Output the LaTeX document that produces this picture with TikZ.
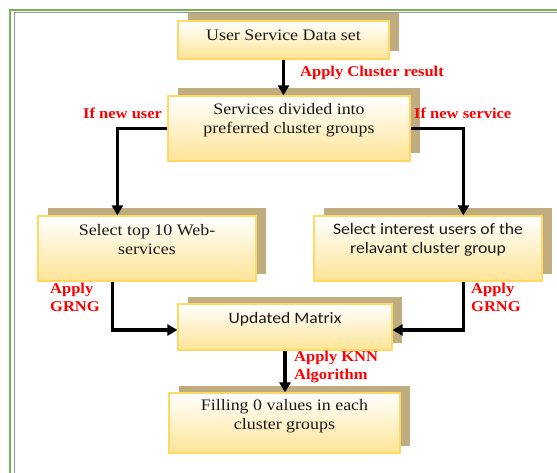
\documentclass[tikz,border=0pt]{standalone}
\usepackage{fontspec}
\setmainfont{Liberation Serif}
\newfontfamily\boxserif{Liberation Serif}[FakeStretch=1.12]
\newfontfamily\boxsans{Carlito}[FakeStretch=1.1]
\newfontfamily\labfont{Liberation Serif}[FakeStretch=1.1]
\usetikzlibrary{arrows.meta,shadows}
\definecolor{boxbot}{RGB}{255,228,150}
\definecolor{boxedge}{RGB}{255,217,102}
\definecolor{shadowc}{RGB}{191,173,127}
\definecolor{greenb}{RGB}{118,178,78}
\definecolor{grayb}{RGB}{150,150,150}
\definecolor{redl}{RGB}{255,0,0}
\begin{document}
\begin{tikzpicture}[x=1pt,y=-1pt,
  flowbox/.style={draw=boxedge, line width=1.2pt, top color=white, bottom color=boxbot, inner sep=0pt,
    general shadow={shadow xshift=9.5pt, shadow yshift=7.5pt, fill=shadowc}},
  serift/.style={font=\boxserif\fontsize{16}{19}\selectfont, align=center, inner sep=0pt, text=black!90},
  sanst/.style={font=\boxsans\fontsize{16}{18.5}\selectfont, align=center, inner sep=0pt, text=black!90},
  redlab/.style={font=\labfont\bfseries\fontsize{15}{18}\selectfont, text=redl, align=left, inner sep=0pt, anchor=west},
  conn/.style={line width=3.5pt, -{Triangle[length=10pt,width=11pt]}},
]
\useasboundingbox (0,0) rectangle (557,473);
\fill[white] (0,0) rectangle (557,473);
% page borders
\draw[greenb, line width=2pt] (10,480) -- (10,10) -- (565,10);
\draw[grayb, line width=1.4pt] (14.5,480) -- (14.5,12.5) -- (565,12.5);

% boxes
\node[flowbox, minimum width=211pt, minimum height=38pt] (b1) at (283.5,40) {};
\node[flowbox, minimum width=242pt, minimum height=65pt] (b2) at (289,128.5) {};
\node[flowbox, minimum width=218pt, minimum height=65pt] (b3) at (147,248.5) {};
\node[flowbox, minimum width=228pt, minimum height=65pt] (b4) at (428,248.5) {};
\node[flowbox, minimum width=214pt, minimum height=46pt] (b5) at (285,327) {};
\node[flowbox, minimum width=231pt, minimum height=60pt] (b6) at (284.5,423) {};

% box texts
\node[serift] (t1) at (283.5,35) {User Service Data set};
\node[serift] (t2) at (289,120.5) {Services divided into\\preferred cluster groups};
\node[serift] (t3) at (147,240) {Select top 10 Web-\\services};
\node[sanst] (t4) at (428,240) {Select interest users of the\\relavant cluster group};
\node[sanst] (t5) at (285,319) {Updated Matrix};
\node[serift] (t6) at (284.5,416.5) {Filling 0 values in each\\cluster groups};

% connectors
\draw[conn] (b1.south) -- (b1.south |- b2.north);
\draw[conn] (b2.west) -| ([xshift=80pt]b3.north west);
\draw[conn] (b2.east) -| ([xshift=150pt]b4.north west);
\draw[conn] ([xshift=75pt]b3.south west) |- ([yshift=-3pt]b5.west);
\draw[conn] ([xshift=150pt]b4.south west) |- ([yshift=-3pt]b5.east);
\draw[conn] (b5.south) -- (b5.south |- b6.north);

% red labels
\node[redlab] (l1) at (300,73) {Apply Cluster result};
\node[redlab] (l2) at (83,113) {If new user};
\node[redlab] (l3) at (414,113) {If new service};
\node[redlab] (l4) at (50,297) {Apply\\GRNG};
\node[redlab] (l5) at (471,297) {Apply\\GRNG};
\node[redlab] (l6) at (294,367) {Apply KNN\\Algorithm};
\end{tikzpicture}
\end{document}
